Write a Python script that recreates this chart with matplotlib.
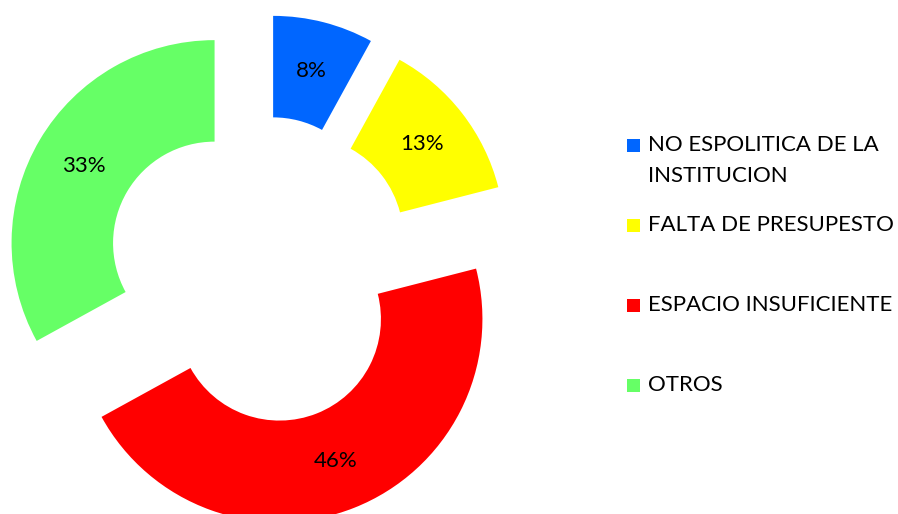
import matplotlib.pyplot as plt
from matplotlib.patches import Rectangle

categories = ['NO ESPOLITICA DE LA\nINSTITUCION', 'FALTA DE PRESUPESTO', 'ESPACIO INSUFICIENTE', 'OTROS']
values = [8, 13, 46, 33]
colors = ['#0066FF', '#FFFF00', '#FF0000', '#66FF66']

plt.rcParams['font.family'] = ['Lato', 'DejaVu Sans']

W, H = 898, 514
fig = plt.figure(figsize=(W / 100, H / 100), dpi=100)
ax = fig.add_axes([0, 0, 1, 1])
ax.pie(values, colors=colors, startangle=90, counterclock=False, explode=[0.26] * 4,
       radius=1, wedgeprops=dict(width=0.5, linewidth=0),
       autopct='%.0f%%', pctdistance=0.75, textprops=dict(fontsize=16, color='black'))

# view so one radius is 203 px, donut centre at (260, 270) px from top-left
s = 203
ax.set_xlim(-260 / s, (W - 260) / s)
ax.set_ylim(-(H - 270) / s, 270 / s)
ax.set_aspect('auto')
ax.axis('off')

# legend on the right, one row per category
rows = [145, 225, 305, 385]
for lab, col, ry in zip(categories, colors, rows):
    fig.patches.append(Rectangle((627 / W, 1 - (ry + 6.5) / H), 13 / W, 13 / H,
                                 transform=fig.transFigure, facecolor=col, edgecolor='none'))
    for k, line in enumerate(lab.split('\n')):
        fig.text(648 / W, 1 - (ry + k * 31) / H, line, fontsize=16, va='center', ha='left')

fig.savefig('out.png', dpi=100)
